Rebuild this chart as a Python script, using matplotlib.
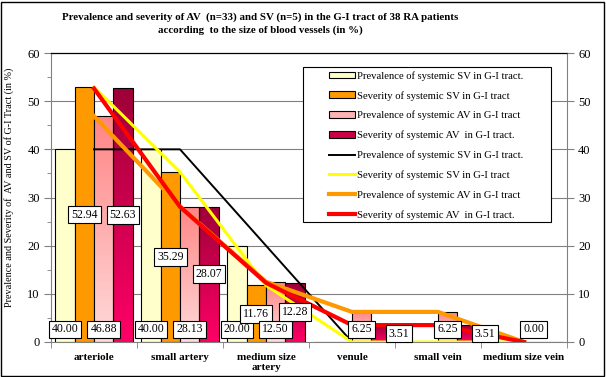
import numpy as np
import matplotlib
matplotlib.use("Agg")
import matplotlib.pyplot as plt
from matplotlib.patches import Patch, Rectangle
from matplotlib.lines import Line2D
from matplotlib.colors import LinearSegmentedColormap

categories = ["arteriole", "small artery", "medium size\nartery", "venule", "small vein", "medium size vein"]
prev_sv = [40.00, 40.00, 20.00, 0.00, 0.00, 0.00]
sev_sv = [52.94, 35.29, 11.76, 0.00, 0.00, 0.00]
prev_av = [46.88, 28.13, 12.50, 6.25, 6.25, 0.00]
sev_av = [52.63, 28.07, 12.28, 3.51, 3.51, 0.00]

labels = ["Prevalence of systemic SV in G-I tract.",
          "Severity of systemic SV in G-I tract",
          "Prevalence of systemic AV in G-I tract",
          "Severity of systemic AV  in G-I tract."]
line_labels = ["Prevalence of systemic SV in G-I tract.",
               "Severity of systemic SV in G-I tract",
               "Prevalence of systemic AV in G-I tract",
               "Severity of systemic AV  in G-I tract."]

title = ("Prevalence and severity of AV  (n=33) and SV (n=5) in the G-I tract of 38 RA patients\n"
         "according  to the size of blood vessels (in %)")
ylabel = "Prevalence and Severity of  AV and SV of G-I Tract (in %)"

serif = "Liberation Serif"
plt.rcParams["font.family"] = serif

W, H = 606, 377
fig = plt.figure(figsize=(W / 100, H / 100), dpi=100)
ax = fig.add_axes([51 / W, 1 - 342 / H, (567 - 51) / W, (342 - 53) / H])

x = np.arange(len(categories))
w = 0.224
offsets = [-1.5, -0.5, 0.5, 1.5]

ax.set_xlim(-0.5, len(categories) - 0.5)
ax.set_ylim(0, 60)

# grid
for v in range(10, 60, 10):
    ax.axhline(v, color="#808080", lw=0.8, zorder=0.5)

bars_y = ax.bar(x + offsets[0] * w, prev_sv, w, color="#FFFFCC", edgecolor="black", lw=0.8, zorder=2)
bars_o = ax.bar(x + offsets[1] * w, sev_sv, w, color="#FF9900", edgecolor="black", lw=0.8, zorder=2)
bars_p = ax.bar(x + offsets[2] * w, prev_av, w, color="none", edgecolor="black", lw=0.8, zorder=2.5)
bars_c = ax.bar(x + offsets[3] * w, sev_av, w, color="none", edgecolor="black", lw=0.8, zorder=2.5)

cmap_p = LinearSegmentedColormap.from_list("p", ["#FFDADA", "#FF8585"])
cmap_c = LinearSegmentedColormap.from_list("c", ["#FF0066", "#9E0038"])
grad = np.linspace(0, 1, 256).reshape(-1, 1)
for bars, cm in [(bars_p, cmap_p), (bars_c, cmap_c)]:
    for b in bars:
        hgt = b.get_height()
        if hgt <= 0:
            continue
        im = ax.imshow(grad, cmap=cm, origin="lower", aspect="auto",
                       extent=[b.get_x(), b.get_x() + b.get_width(), 0, hgt],
                       zorder=2, interpolation="bilinear")
        im.set_clip_path(b)

ax.set_xlim(-0.5, len(categories) - 0.5)
ax.set_ylim(0, 60)

# lines
ax.plot(x, prev_sv, color="black", lw=1.4, zorder=4)
ax.plot(x, sev_sv, color="#FFFF00", lw=2.2, zorder=4)
ax.plot(x, prev_av, color="#FF9900", lw=3.0, zorder=4)
ax.plot(x, sev_av, color="#FF0000", lw=3.0, zorder=4)

# data labels
bbox = dict(boxstyle="square,pad=0.25", fc="white", ec="black", lw=0.8)
def lab(xp, yp, val, dx=0):
    ax.annotate(f"{val:.2f}", (xp, yp), xytext=(dx, 0), textcoords="offset points",
                ha="center", va="center", fontsize=8.5, bbox=bbox, zorder=6)

for i in range(len(categories)):
    if prev_sv[i] > 0:
        lab(x[i] + offsets[0] * w, 2.6, prev_sv[i])
    if sev_sv[i] > 0:
        lab(x[i] + offsets[1] * w, sev_sv[i] / 2, sev_sv[i])
    if prev_av[i] > 0 or i == len(categories) - 1:
        lab(x[i] + offsets[2] * w, 2.6, prev_av[i])
    if sev_av[i] > 0:
        dx = 13 if i in (3, 4) else 0
        lab(x[i] + offsets[3] * w, sev_av[i] / 2, sev_av[i], dx)

# axes styling
for s in ["left", "right", "bottom"]:
    ax.spines[s].set_color("#808080")
    ax.spines[s].set_linewidth(0.8)
ax.spines["top"].set_color("black")
ax.spines["top"].set_linewidth(0.9)

ax.set_yticks(range(0, 61, 10))
ax.set_yticks(range(5, 60, 10), minor=True)
ax.tick_params(axis="y", which="major", direction="out", length=5, color="#808080", labelsize=9, pad=3)
ax.tick_params(axis="y", which="minor", direction="out", length=3, color="#808080")

ax.set_xticks(np.arange(-0.5, len(categories) + 0.5, 1), minor=True)
ax.set_xticks(x)
ax.set_xticklabels(categories, fontweight="bold", fontsize=8, linespacing=1.1)
ax.tick_params(axis="x", which="major", length=0, pad=8)
ax.tick_params(axis="x", which="minor", direction="out", length=4, color="#808080")

ax2 = ax.twinx()
ax2.set_ylim(0, 60)
ax2.set_yticks(range(0, 61, 10))
ax2.tick_params(axis="y", direction="out", length=5, color="#808080", labelsize=9, pad=3)
for s in ax2.spines.values():
    s.set_visible(False)

fig.text(9 / W, 1 - 187 / H, ylabel, rotation=90, ha="center", va="center", fontsize=7.3)

fig.text(260 / W, 1 - 24 / H, title, ha="center", va="center", fontsize=7.8,
         fontweight="bold", linespacing=1.45)

# legend
handles = [Patch(fc="#FFFFCC", ec="black", lw=0.8),
           Patch(fc="#FF9900", ec="black", lw=0.8),
           Patch(fc="#FFB3B3", ec="black", lw=0.8),
           Patch(fc="#CC0044", ec="black", lw=0.8),
           Line2D([], [], color="black", lw=1.4),
           Line2D([], [], color="#FFFF00", lw=2.2),
           Line2D([], [], color="#FF9900", lw=3.0),
           Line2D([], [], color="#FF0000", lw=3.0)]
fig.add_artist(Rectangle((303 / W, 1 - 222 / H), 248 / W, 155 / H, transform=fig.transFigure,
                         fill=True, fc="white", ec="black", lw=0.8, zorder=8))
leg = fig.legend(handles, labels + line_labels, loc="upper left",
                 bbox_to_anchor=(329 / W, 1 - 71 / H), frameon=False, fontsize=7.7,
                 handlelength=2.4, handleheight=0.6, handletextpad=0.25,
                 labelspacing=0.95, borderpad=0.0, borderaxespad=0)
leg.set_zorder(10)

fig.add_artist(Rectangle((1 / W, 1 / H), (W - 3) / W, (H - 3) / H, transform=fig.transFigure,
                         fill=False, ec="black", lw=1.0))

fig.savefig("out.png", dpi=100)
